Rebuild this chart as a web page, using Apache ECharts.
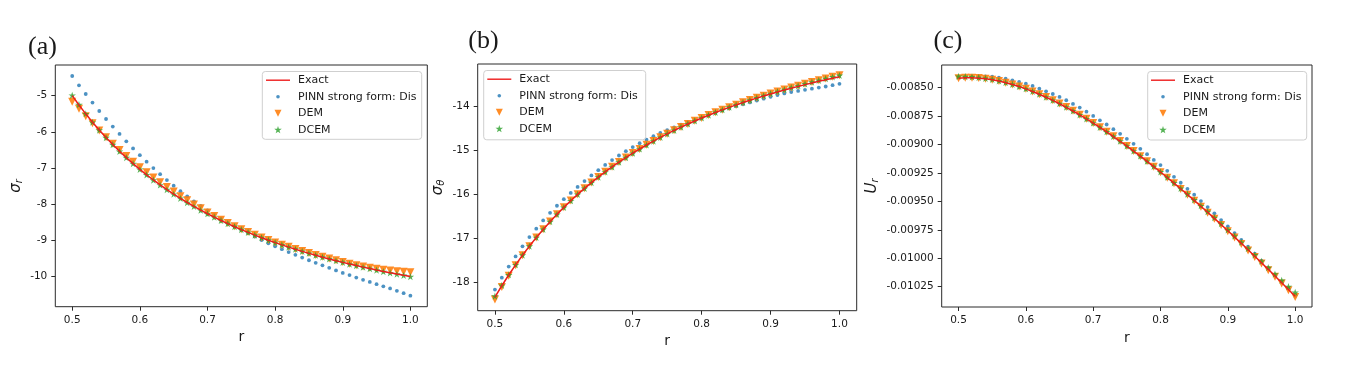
<!DOCTYPE html>
<html>
<head>
<meta charset="utf-8">
<script src="https://cdn.jsdelivr.net/npm/echarts@6/dist/echarts.min.js"></script>
<style>html,body{margin:0;padding:0;background:#fff}#chart{width:1347px;height:374px}</style>
</head>
<body>
<div id="chart"></div>
<script>
// ---------------- data ----------------
const r = [0.50,0.51,0.52,0.53,0.54,0.55,0.56,0.57,0.58,0.59,0.60,0.61,0.62,0.63,0.64,0.65,0.66,0.67,0.68,0.69,0.70,0.71,0.72,0.73,0.74,0.75,0.76,0.77,0.78,0.79,0.80,0.81,0.82,0.83,0.84,0.85,0.86,0.87,0.88,0.89,0.90,0.91,0.92,0.93,0.94,0.95,0.96,0.97,0.98,0.99,1.00];

const seriesNames = ['Exact', 'PINN strong form: Dis', 'DEM', 'DCEM'];
const panelLabels = ['(a)', '(b)', '(c)'];
const xTicks = [0.5, 0.6, 0.7, 0.8, 0.9, 1.0];

// (a) sigma_r
const exactSr = [-5.000,-5.259,-5.503,-5.733,-5.951,-6.157,-6.352,-6.537,-6.712,-6.879,-7.037,-7.188,-7.331,-7.467,-7.598,-7.722,-7.840,-7.954,-8.062,-8.166,-8.265,-8.360,-8.452,-8.539,-8.623,-8.704,-8.781,-8.856,-8.927,-8.996,-9.063,-9.126,-9.188,-9.247,-9.305,-9.360,-9.413,-9.465,-9.514,-9.563,-9.609,-9.654,-9.698,-9.740,-9.780,-9.820,-9.858,-9.895,-9.931,-9.966,-10.000];
const pinnSr = [-4.457,-4.715,-4.954,-5.193,-5.424,-5.645,-5.856,-6.059,-6.262,-6.458,-6.645,-6.826,-7.001,-7.170,-7.334,-7.490,-7.640,-7.783,-7.920,-8.050,-8.175,-8.295,-8.410,-8.515,-8.610,-8.710,-8.800,-8.895,-8.990,-9.080,-9.165,-9.245,-9.325,-9.400,-9.475,-9.550,-9.620,-9.690,-9.760,-9.830,-9.900,-9.960,-10.030,-10.090,-10.150,-10.210,-10.270,-10.330,-10.395,-10.460,-10.530];
const demSr = [-5.170,-5.360,-5.570,-5.760,-5.965,-6.150,-6.330,-6.500,-6.670,-6.830,-6.980,-7.120,-7.260,-7.395,-7.525,-7.652,-7.778,-7.893,-8.010,-8.115,-8.228,-8.330,-8.430,-8.522,-8.610,-8.692,-8.771,-8.848,-8.921,-8.990,-9.056,-9.119,-9.180,-9.239,-9.296,-9.350,-9.402,-9.453,-9.501,-9.548,-9.600,-9.645,-9.685,-9.720,-9.755,-9.785,-9.810,-9.835,-9.855,-9.870,-9.880];
const dcemSr = [-4.990,-5.250,-5.500,-5.735,-5.955,-6.160,-6.355,-6.540,-6.715,-6.880,-7.040,-7.190,-7.335,-7.470,-7.600,-7.725,-7.842,-7.956,-8.064,-8.168,-8.266,-8.361,-8.452,-8.539,-8.622,-8.703,-8.780,-8.854,-8.925,-8.994,-9.060,-9.124,-9.186,-9.245,-9.303,-9.358,-9.412,-9.464,-9.514,-9.563,-9.610,-9.656,-9.700,-9.743,-9.784,-9.824,-9.863,-9.900,-9.936,-9.970,-10.003];
const yTicksSr = [-10, -9, -8, -7, -6, -5];

// (b) sigma_theta
const exactSt = [-18.333,-18.074,-17.830,-17.600,-17.382,-17.176,-16.981,-16.796,-16.621,-16.455,-16.296,-16.146,-16.002,-15.866,-15.736,-15.611,-15.493,-15.380,-15.271,-15.167,-15.068,-14.973,-14.882,-14.794,-14.710,-14.630,-14.552,-14.478,-14.406,-14.337,-14.271,-14.207,-14.145,-14.086,-14.029,-13.973,-13.920,-13.869,-13.819,-13.771,-13.724,-13.679,-13.636,-13.594,-13.553,-13.513,-13.475,-13.438,-13.402,-13.367,-13.333];
const pinnSt = [-18.160,-17.890,-17.640,-17.410,-17.180,-16.970,-16.780,-16.593,-16.420,-16.260,-16.110,-15.970,-15.833,-15.700,-15.572,-15.452,-15.335,-15.224,-15.120,-15.022,-14.930,-14.840,-14.762,-14.684,-14.610,-14.545,-14.482,-14.423,-14.366,-14.309,-14.255,-14.202,-14.150,-14.101,-14.053,-14.005,-13.960,-13.916,-13.873,-13.831,-13.790,-13.750,-13.712,-13.680,-13.655,-13.630,-13.605,-13.580,-13.555,-13.525,-13.495];
const demSt = [-18.385,-18.100,-17.845,-17.608,-17.385,-17.178,-16.980,-16.794,-16.618,-16.452,-16.293,-16.142,-15.998,-15.862,-15.731,-15.607,-15.489,-15.376,-15.268,-15.164,-15.065,-14.970,-14.879,-14.791,-14.707,-14.627,-14.549,-14.475,-14.403,-14.334,-14.268,-14.204,-14.142,-14.083,-14.025,-13.969,-13.915,-13.863,-13.812,-13.763,-13.715,-13.668,-13.623,-13.579,-13.536,-13.494,-13.453,-13.413,-13.374,-13.336,-13.298];
const dcemSt = [-18.310,-18.065,-17.826,-17.598,-17.381,-17.175,-16.980,-16.796,-16.621,-16.455,-16.297,-16.147,-16.003,-15.867,-15.737,-15.612,-15.494,-15.381,-15.272,-15.168,-15.069,-14.974,-14.883,-14.795,-14.711,-14.630,-14.552,-14.477,-14.405,-14.336,-14.269,-14.205,-14.143,-14.083,-14.025,-13.969,-13.915,-13.863,-13.813,-13.764,-13.716,-13.670,-13.625,-13.582,-13.539,-13.497,-13.456,-13.416,-13.377,-13.339,-13.302];
const yTicksSt = [-18, -17, -16, -15, -14];

// (c) U_r
const exactUr = [-0.0084167,-0.0084134,-0.0084133,-0.0084164,-0.0084224,-0.0084311,-0.0084424,-0.0084562,-0.0084724,-0.0084906,-0.0085111,-0.0085336,-0.0085579,-0.0085842,-0.0086121,-0.0086416,-0.0086728,-0.0087055,-0.0087396,-0.0087751,-0.0088120,-0.0088500,-0.0088893,-0.0089298,-0.0089713,-0.0090139,-0.0090576,-0.0091022,-0.0091478,-0.0091944,-0.0092417,-0.0092899,-0.0093390,-0.0093888,-0.0094394,-0.0094907,-0.0095427,-0.0095954,-0.0096488,-0.0097028,-0.0097574,-0.0098127,-0.0098684,-0.0099248,-0.0099817,-0.0100390,-0.0100970,-0.0101554,-0.0102142,-0.0102736,-0.0103333];
const pinnUr = [-0.008414,-0.008408,-0.008404,-0.008402,-0.008402,-0.008404,-0.008412,-0.008421,-0.008436,-0.008450,-0.008465,-0.008485,-0.008509,-0.008532,-0.008556,-0.008582,-0.008611,-0.008643,-0.008675,-0.008711,-0.008749,-0.008787,-0.008824,-0.008865,-0.008906,-0.008950,-0.008994,-0.009038,-0.009085,-0.009135,-0.009181,-0.009231,-0.009284,-0.009336,-0.009389,-0.009441,-0.009497,-0.009550,-0.009605,-0.009664,-0.009720,-0.009778,-0.009839,-0.009898,-0.009959,-0.010020,-0.010082,-0.010143,-0.010205,-0.010268,-0.010331];
const demUr = [-0.008418,-0.008414,-0.008413,-0.008416,-0.008422,-0.008431,-0.008442,-0.008456,-0.008472,-0.008490,-0.008510,-0.008533,-0.008557,-0.008583,-0.008611,-0.008640,-0.008671,-0.008704,-0.008738,-0.008773,-0.008810,-0.008848,-0.008887,-0.008928,-0.008970,-0.009013,-0.009057,-0.009102,-0.009148,-0.009195,-0.009243,-0.009291,-0.009341,-0.009391,-0.009442,-0.009494,-0.009546,-0.009599,-0.009653,-0.009707,-0.009762,-0.009818,-0.009874,-0.009931,-0.009988,-0.010046,-0.010104,-0.010163,-0.010222,-0.010281,-0.010340];
const dcemUr = [-0.008400,-0.008403,-0.008406,-0.008411,-0.008418,-0.008428,-0.008440,-0.008455,-0.008471,-0.008490,-0.008510,-0.008533,-0.008557,-0.008583,-0.008611,-0.008641,-0.008672,-0.008705,-0.008739,-0.008774,-0.008811,-0.008849,-0.008888,-0.008929,-0.008970,-0.009013,-0.009057,-0.009101,-0.009147,-0.009193,-0.009240,-0.009288,-0.009337,-0.009386,-0.009436,-0.009487,-0.009538,-0.009590,-0.009643,-0.009696,-0.009750,-0.009804,-0.009859,-0.009914,-0.009970,-0.010026,-0.010082,-0.010138,-0.010194,-0.010248,-0.010300];
const yTicksUr = [-0.01025, -0.01000, -0.00975, -0.00950, -0.00925, -0.00900, -0.00875, -0.00850];

// ---------------- layout / style ----------------
const COLORS = {exact: '#ee1c1c', pinn: '#1f77b4', dem: '#ff7f0e', dcem: '#2ca02c'};
const TRI_DOWN = 'path://M0,0L2,0L1,2Z';
const STAR = 'path://M0,-1L0.2245,-0.309L0.9511,-0.309L0.3633,0.118L0.5878,0.809L0,0.382L-0.5878,0.809L-0.3633,0.118L-0.9511,-0.309L-0.2245,-0.309Z';
// legend icons drawn inside a 24x8 box (the leading moves fix the box)
const LEG_LINE = 'path://M0,0M24,8M0,3.3L24,3.3L24,4.7L0,4.7Z';
const LEG_DOT = 'path://M0,0M24,8M13.8,4A1.8,1.8,0,1,1,10.2,4A1.8,1.8,0,1,1,13.8,4Z';
const LEG_TRI = 'path://M0,0M24,8M8.5,0.6L15.5,0.6L12,7.6Z';
const LEG_STAR = 'path://M0,0M24,8M12,0.4L12.898,3.164L15.804,3.164L13.453,4.872L14.351,7.636L12,5.928L9.649,7.636L10.547,4.872L8.196,3.164L11.102,3.164Z';
const FONT = 'DejaVu Sans';

const panels = [
  {data: [exactSr, pinnSr, demSr, dcemSr], yTicks: yTicksSr, yName: '{i|σ}{s|r}', digits: null,
   grid: {left: 55.3, top: 65, width: 372, height: 241.7}, yMin: -10.834, yMax: -4.153,
   yNameGap: 28, xNameGap: 21, box: {x: 262.3, y: 71.5, w: 159.4, h: 67.8}, iconX: 266,
   label: {x: 42.5, y: 47}},
  {data: [exactSt, pinnSt, demSt, dcemSt], yTicks: yTicksSt, yName: '{i|σ}{s|θ}', digits: null,
   grid: {left: 477.7, top: 64, width: 379, height: 246.7}, yMin: -18.64, yMax: -13.045,
   yNameGap: 29, xNameGap: 22, box: {x: 483.7, y: 70.5, w: 162, h: 69.3}, iconX: 487.3,
   label: {x: 483.5, y: 41}},
  {data: [exactUr, pinnUr, demUr, dcemUr], yTicks: yTicksUr, yName: '{i|U}{s|r}', digits: 5,
   grid: {left: 941.7, top: 65, width: 370.3, height: 242}, yMin: -0.010428, yMax: -0.008301,
   yNameGap: 60, xNameGap: 21, box: {x: 1147.7, y: 71.5, w: 159, h: 68.5}, iconX: 1151,
   label: {x: 948, y: 41}}
];
const firstRow = 8.7, rowStep = 16.5;

const option = {
  animation: false,
  backgroundColor: '#ffffff',
  grid: [], xAxis: [], yAxis: [], series: [], legend: [], graphic: []
};

panels.forEach((p, i) => {
  option.grid.push(Object.assign({show: true, borderColor: '#2b2b2b', borderWidth: 1, backgroundColor: 'transparent'}, p.grid));
  option.xAxis.push({
    type: 'value', gridIndex: i, min: 0.475, max: 1.025,
    name: 'r', nameLocation: 'middle', nameGap: p.xNameGap,
    nameTextStyle: {fontFamily: FONT, fontSize: 14, color: '#1a1a1a'},
    axisLine: {show: false},
    axisTick: {show: true, inside: false, length: 4, lineStyle: {color: '#2b2b2b'}, customValues: xTicks},
    axisLabel: {customValues: xTicks, formatter: v => v.toFixed(1), fontFamily: FONT, fontSize: 10.5, color: '#1a1a1a', margin: 8},
    splitLine: {show: false}
  });
  option.yAxis.push({
    type: 'value', gridIndex: i, min: p.yMin, max: p.yMax,
    name: p.yName, nameLocation: 'middle', nameGap: p.yNameGap,
    nameTextStyle: {
      color: '#1a1a1a',
      rich: {
        i: {fontFamily: FONT, fontStyle: 'italic', fontSize: 15, color: '#1a1a1a', verticalAlign: 'top', lineHeight: 16, padding: [0, 0, 3, 0]},
        s: {fontFamily: FONT, fontStyle: 'italic', fontSize: 10, color: '#1a1a1a', verticalAlign: 'bottom', lineHeight: 10}
      }
    },
    axisLine: {show: false},
    axisTick: {show: true, inside: false, length: 4, lineStyle: {color: '#2b2b2b'}, customValues: p.yTicks},
    axisLabel: {customValues: p.yTicks, formatter: v => p.digits ? v.toFixed(p.digits) : String(Math.round(v)),
      fontFamily: FONT, fontSize: 10.5, color: '#1a1a1a', margin: 8},
    splitLine: {show: false}
  });
  const pts = arr => r.map((x, k) => [x, arr[k]]);
  option.series.push(
    {name: seriesNames[1], type: 'scatter', xAxisIndex: i, yAxisIndex: i, data: pts(p.data[1]),
     symbol: 'circle', symbolSize: 3.8, itemStyle: {color: COLORS.pinn}, z: 2, silent: true},
    {name: seriesNames[2], type: 'scatter', xAxisIndex: i, yAxisIndex: i, data: pts(p.data[2]),
     symbol: TRI_DOWN, symbolSize: 8, symbolKeepAspect: true, itemStyle: {color: COLORS.dem, opacity: 0.9}, z: 3, silent: true},
    {name: seriesNames[3], type: 'scatter', xAxisIndex: i, yAxisIndex: i, data: pts(p.data[3]),
     symbol: STAR, symbolSize: 7.5, symbolKeepAspect: true, itemStyle: {color: COLORS.dcem}, z: 4, silent: true},
    {name: seriesNames[0], type: 'line', xAxisIndex: i, yAxisIndex: i, data: pts(p.data[0]),
     symbol: 'none', smooth: false, lineStyle: {color: COLORS.exact, width: 1.5}, itemStyle: {color: COLORS.exact}, z: 5, silent: true}
  );

  // legend frame
  option.graphic.push({
    type: 'rect', z: 50, silent: true,
    shape: {x: p.box.x, y: p.box.y, width: p.box.w, height: p.box.h, r: 3},
    style: {fill: 'rgba(255,255,255,0.85)', stroke: '#cfcfcf', lineWidth: 1}
  });
  option.legend.push({
    data: [
      {name: seriesNames[0], icon: LEG_LINE, itemStyle: {color: COLORS.exact, borderWidth: 0}},
      {name: seriesNames[1], icon: LEG_DOT, itemStyle: {color: COLORS.pinn, borderWidth: 0}},
      {name: seriesNames[2], icon: LEG_TRI, itemStyle: {color: COLORS.dem, borderWidth: 0}},
      {name: seriesNames[3], icon: LEG_STAR, itemStyle: {color: COLORS.dcem, borderWidth: 0}}
    ],
    orient: 'vertical', selectedMode: false, z: 60,
    left: p.iconX, top: p.box.y + firstRow - 7, padding: 0,
    itemWidth: 24, itemHeight: 8, itemGap: rowStep - 14, symbolKeepAspect: false,
    lineStyle: {width: 0},
    textStyle: {fontFamily: FONT, fontSize: 11, color: '#1a1a1a', lineHeight: 14, padding: [0, 0, 0, 3]}
  });
  // panel label
  option.graphic.push({
    type: 'text', z: 50, silent: true, x: p.label.x, y: p.label.y,
    style: {text: panelLabels[i], font: '26px "Liberation Serif"', fill: '#1a1a1a', textAlign: 'center', textVerticalAlign: 'middle'}
  });
});

const chart = echarts.init(document.getElementById('chart'), null, {renderer: 'canvas'});
chart.setOption(option);
</script>
</body>
</html>
